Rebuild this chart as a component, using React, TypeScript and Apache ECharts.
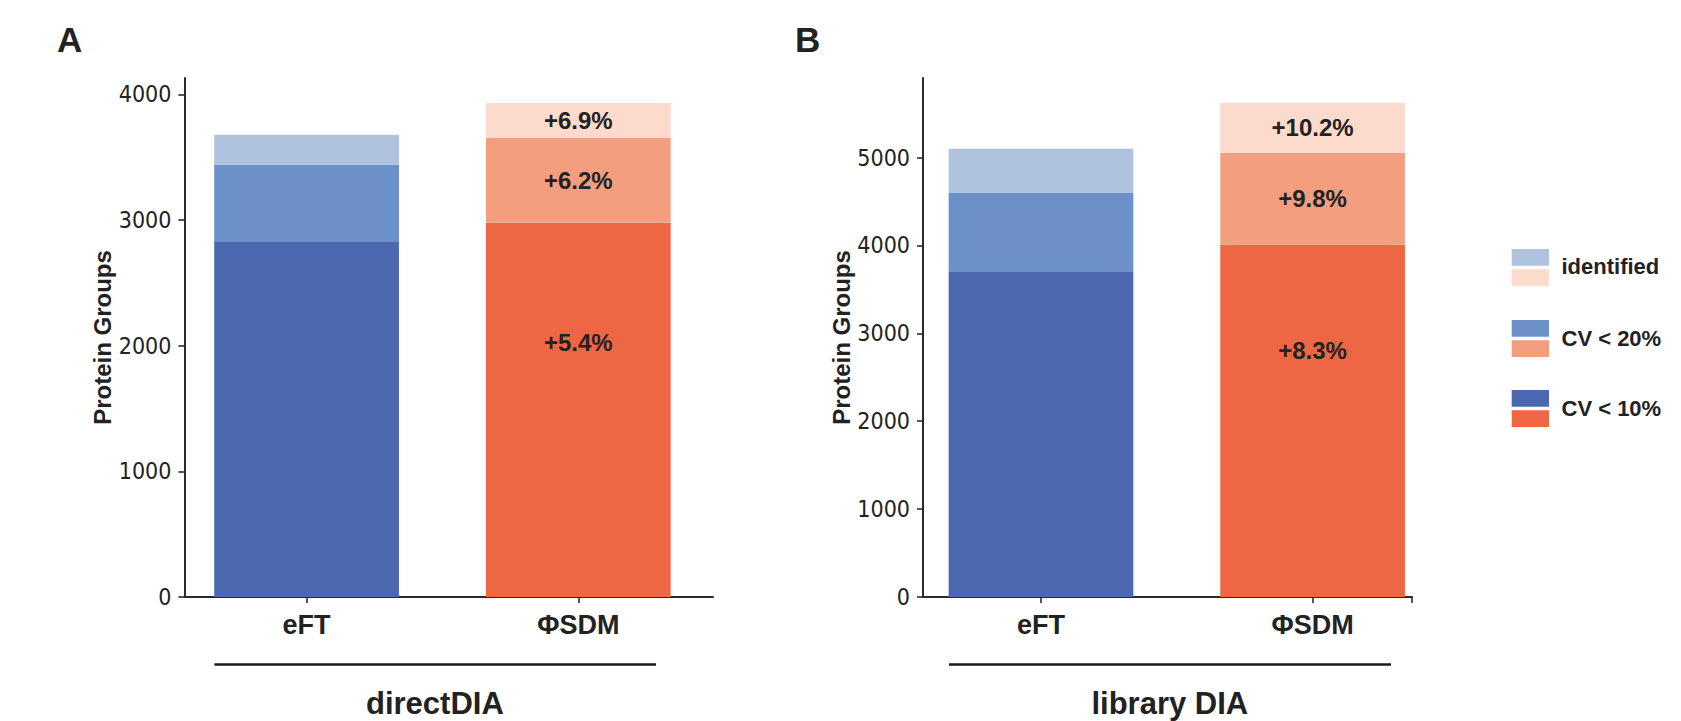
import React, { useEffect, useRef } from 'react';
import * as echarts from 'echarts';

// ---------- data ----------
const methods = ['eFT', 'ΦSDM'];
const panelNames = ['directDIA', 'library DIA'];
const panelLetters = ['A', 'B'];
const levels = ['CV < 10%', 'CV < 20%', 'identified'];

// cumulative protein-group counts (top edge of each stacked segment: CV<10%, CV<20%, identified)
const directEFT = [2825, 3440, 3678];
const directSDM = [2978, 3653, 3932];
const libraryEFT = [3705, 4603, 5100];
const librarySDM = [4012, 5055, 5623];

// gain labels printed on the ΦSDM bars
const directGain = ['+5.4%', '+6.2%', '+6.9%'];
const libraryGain = ['+8.3%', '+9.8%', '+10.2%'];

const yTicksDirect = [0, 1000, 2000, 3000, 4000];
const yTicksLibrary = [0, 1000, 2000, 3000, 4000, 5000];
const directYMax = 4130;
const libraryYMax = 5905;

const blueShades = ['#4C69B0', '#6C90C8', '#AFC3DE'];
const orangeShades = ['#EE6644', '#F49E80', '#FCDBCD'];

// ---------- layout (pixels) ----------
const TOP = 78;
const HEIGHT = 519;
const layouts = [
  { axisLeft: 184.4, axisRight: 713, center0: 306.6, step: 271.7, lineX: [214.4, 656], labelX: 434.9, letterX: 57, lowLabel: '32%', extraTick: false },
  { axisLeft: 923, axisRight: 1412, center0: 1041, step: 271.6, lineX: [949, 1391], labelX: 1169.8, letterX: 795, lowLabel: '30%', extraTick: true },
];

const TICK_FONT = "'Liberation Sans Narrow', 'DejaVu Sans Condensed', 'Roboto Condensed', 'Liberation Sans', sans-serif";
const BOLD_FONT = "'Liberation Sans', Arial, Helvetica, sans-serif";
const INK = '#222222';
const AXIS_COLOR = '#2b2b2b';

function diffs(arr: number[]) {
  return arr.map((v, i) => (i === 0 ? v : v - arr[i - 1]));
}

export default function App() {
  const ref = useRef<HTMLDivElement>(null);

  useEffect(() => {
    if (!ref.current) return;
    const chart = echarts.init(ref.current, null, { renderer: 'svg' });

    const panels = [
      { eft: directEFT, sdm: directSDM, gain: directGain, yTicks: yTicksDirect, yMax: directYMax },
      { eft: libraryEFT, sdm: librarySDM, gain: libraryGain, yTicks: yTicksLibrary, yMax: libraryYMax },
    ];

    const grid: any[] = [];
    const xAxis: any[] = [];
    const yAxis: any[] = [];
    const series: any[] = [];
    const graphic: any[] = [];

    panels.forEach((p, pi) => {
      const L = layouts[pi];
      const axesGrid = grid.length;
      grid.push({ left: L.axisLeft, top: TOP, width: L.axisRight - L.axisLeft, height: HEIGHT });
      const barsGrid = grid.length;
      grid.push({ left: L.center0 - L.step / 2, top: TOP, width: L.step * 2, height: HEIGHT });

      const xMin = (L.axisLeft - L.center0) / L.step;
      const xMax = (L.axisRight - L.center0) / L.step;
      const tickVals = L.extraTick ? [0, 1, xMax] : [0, 1];

      // visible axes
      xAxis.push({
        gridIndex: axesGrid,
        type: 'value',
        min: xMin,
        max: xMax,
        axisLine: { show: true, onZero: false, lineStyle: { color: AXIS_COLOR, width: 2 } },
        axisTick: { show: true, customValues: tickVals, length: 6, lineStyle: { color: AXIS_COLOR, width: 1.6 } },
        axisLabel: {
          customValues: [0, 1],
          formatter: (v: number) => methods[Math.round(v)] ?? '',
          margin: 14,
          color: INK,
          fontFamily: BOLD_FONT,
          fontWeight: 'bold',
          fontSize: 27,
        },
        splitLine: { show: false },
      });
      yAxis.push({
        gridIndex: axesGrid,
        type: 'value',
        min: 0,
        max: p.yMax,
        name: 'Protein Groups',
        nameLocation: 'middle',
        nameGap: 66,
        nameTextStyle: { color: INK, fontFamily: BOLD_FONT, fontWeight: 'bold', fontSize: 24 },
        axisLine: { show: true, onZero: false, lineStyle: { color: AXIS_COLOR, width: 2 } },
        axisTick: { show: true, customValues: p.yTicks, length: 6, lineStyle: { color: AXIS_COLOR, width: 1.6 } },
        axisLabel: {
          customValues: p.yTicks,
          formatter: (v: number) => String(Math.round(v)),
          margin: 13,
          color: INK,
          fontFamily: TICK_FONT,
          fontSize: 23,
        },
        splitLine: { show: false },
      });

      // hidden axes carrying the bars
      const barX = xAxis.length;
      xAxis.push({ gridIndex: barsGrid, type: 'category', data: methods, show: false });
      const barY = yAxis.length;
      yAxis.push({ gridIndex: barsGrid, type: 'value', min: 0, max: p.yMax, show: false, splitLine: { show: false } });

      const eftSeg = diffs(p.eft);
      const sdmSeg = diffs(p.sdm);
      levels.forEach((lvl, li) => {
        series.push({
          type: 'bar',
          name: `${panelNames[pi]} ${lvl}`,
          xAxisIndex: barX,
          yAxisIndex: barY,
          stack: `panel${pi}`,
          barWidth: '68%',
          z: 2,
          data: [
            { value: eftSeg[li], itemStyle: { color: blueShades[li] } },
            {
              value: sdmSeg[li],
              itemStyle: { color: orangeShades[li] },
              label: {
                show: true,
                formatter: p.gain[li],
                position: li === 0 ? ['50%', L.lowLabel] : 'inside',
                align: 'center',
                verticalAlign: 'middle',
                color: INK,
                fontFamily: BOLD_FONT,
                fontWeight: 'bold',
                fontSize: 24,
              },
            },
          ],
        });
      });

      // panel letter
      graphic.push({
        type: 'text',
        left: L.letterX,
        top: 22,
        style: { text: panelLetters[pi], fill: INK, font: `bold 35px ${BOLD_FONT}` },
      });
      // group underline
      graphic.push({
        type: 'line',
        shape: { x1: L.lineX[0], y1: 664.5, x2: L.lineX[1], y2: 664.5 },
        style: { stroke: '#1a1a1a', lineWidth: 2.5 },
      });
      // group label
      graphic.push({
        type: 'text',
        x: L.labelX,
        y: 703,
        style: {
          text: panelNames[pi],
          fill: INK,
          font: `bold 31px ${BOLD_FONT}`,
          align: 'center',
          verticalAlign: 'middle',
        },
      });
    });

    // legend: each entry shows the blue (eFT) and orange (ΦSDM) shade stacked
    const legendRows = [
      { li: 2, y: 249, ty: 266.5 },
      { li: 1, y: 320, ty: 338.5 },
      { li: 0, y: 390, ty: 408.5 },
    ];
    legendRows.forEach((r) => {
      graphic.push({
        type: 'rect',
        shape: { x: 1511.7, y: r.y, width: 37.3, height: 16.7 },
        style: { fill: blueShades[r.li] },
      });
      graphic.push({
        type: 'rect',
        shape: { x: 1511.7, y: r.y + 20.3, width: 37.3, height: 16.7 },
        style: { fill: orangeShades[r.li] },
      });
      graphic.push({
        type: 'text',
        x: 1561.5,
        y: r.ty,
        style: {
          text: levels[r.li],
          fill: INK,
          font: `bold 22px ${BOLD_FONT}`,
          align: 'left',
          verticalAlign: 'middle',
        },
      });
    });

    chart.setOption({
      animation: false,
      backgroundColor: '#ffffff',
      grid,
      xAxis,
      yAxis,
      series,
      graphic,
    });

    return () => chart.dispose();
  }, []);

  return (
    <div
      ref={ref}
      style={{ position: 'fixed', left: 0, top: 0, width: 1681, height: 721, background: '#fff' }}
    />
  );
}
